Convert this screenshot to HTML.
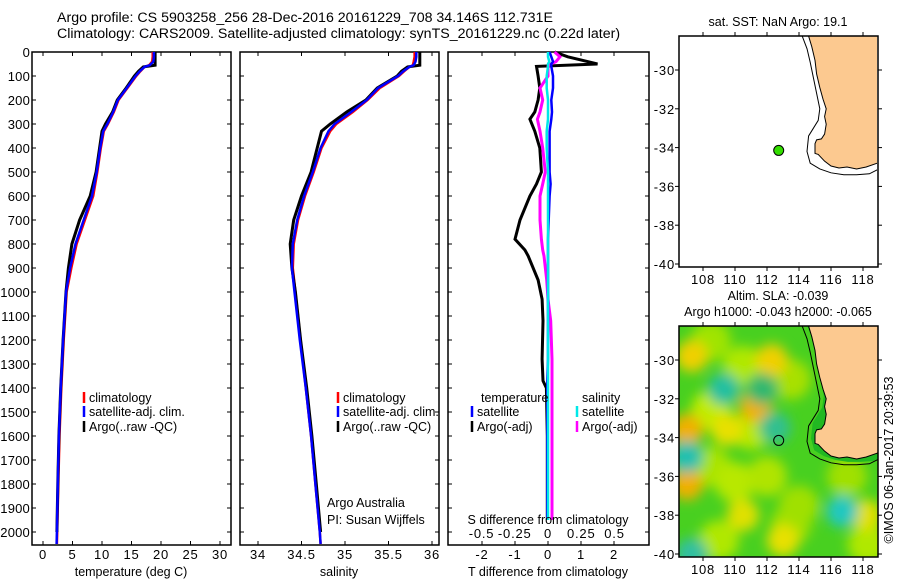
<!DOCTYPE html>
<html><head><meta charset="utf-8">
<style>
html,body{margin:0;padding:0;background:#fff;}
svg{display:block;font-family:"Liberation Sans",sans-serif;font-size:12.5px;}
.tk{font-size:13px;letter-spacing:0.8px;}
.dk{font-size:13px;letter-spacing:0.2px;}
.ttl{font-size:14.2px;}
</style></head>
<body>
<svg id="chart" width="900" height="580" viewBox="0 0 900 580" xmlns="http://www.w3.org/2000/svg">
<defs>
<filter id="blur" x="-20%" y="-20%" width="140%" height="140%"><feGaussianBlur stdDeviation="6"/></filter>
<clipPath id="clipMap2"><rect x="679" y="326" width="199" height="231"/></clipPath>
<clipPath id="clipMap1"><rect x="679" y="36" width="198" height="231"/></clipPath>
</defs>
<text class="ttl" x="57" y="22">Argo profile: CS 5903258_256 28-Dec-2016 20161229_708 34.146S 112.731E</text>
<text class="ttl" x="57" y="38">Climatology: CARS2009. Satellite-adjusted climatology: synTS_20161229.nc (0.22d later)</text>
<g id="g"></g>
</svg>
<script>
// ---- data ----
const depths = [0,20,40,55,62,80,100,150,200,250,300,330,400,500,600,700,800,900,1000,1200,1400,1600,1800,2000,2050];
const tempClim = [18.6,18.6,18.5,18.0,17.2,16.5,15.8,14.3,12.8,12.0,11.0,10.3,9.8,9.2,8.5,7.1,5.7,4.8,4.0,3.5,3.1,2.8,2.6,2.4,2.35];
const tempSat  = [18.8,18.8,18.7,18.1,17.2,16.4,15.7,14.2,12.7,11.9,10.9,10.2,9.7,9.1,8.3,6.9,5.5,4.6,3.9,3.4,3.0,2.7,2.5,2.35,2.3];
const tempArgo = [19.0,19.0,19.0,19.0,17.0,16.2,15.5,14.1,12.6,11.8,10.6,10.0,9.6,9.0,8.0,6.2,4.9,4.3,3.9,3.4,3.0,2.7,2.5,2.35,null];
const salClim = [35.80,35.80,35.79,35.78,35.74,35.68,35.62,35.40,35.26,35.09,34.90,34.83,34.73,34.64,34.54,34.46,34.41,34.40,34.43,34.49,34.55,34.61,34.66,34.71,34.72];
const salSat  = [35.82,35.82,35.81,35.79,35.74,35.67,35.61,35.38,35.25,35.07,34.88,34.81,34.72,34.63,34.53,34.45,34.40,34.39,34.42,34.48,34.55,34.61,34.66,34.71,34.72];
const salArgo = [35.86,35.86,35.86,35.86,35.72,35.65,35.60,35.37,35.24,35.02,34.83,34.73,34.68,34.61,34.50,34.41,34.37,34.39,34.43,34.49,34.56,34.62,34.67,34.72,null];
const diffDepths = [0,20,40,50,60,100,150,200,250,280,330,400,500,550,600,700,780,825,850,950,1030,1120,1280,1370,1400,1600,1800,1950];
const tDiffArgo = [0.2,0.6,1.2,1.5,-0.35,-0.3,-0.25,-0.3,-0.4,-0.55,-0.4,-0.25,-0.2,-0.35,-0.55,-0.85,-1.0,-0.7,-0.6,-0.3,-0.18,-0.15,-0.18,-0.15,-0.05,-0.02,-0.02,-0.02];
const sDiffArgo = [0.05,0.09,0.06,0.02,0.0,0.0,-0.06,-0.04,-0.06,-0.08,-0.06,-0.04,-0.02,-0.04,-0.06,-0.06,-0.05,-0.04,-0.03,-0.01,0.0,0.02,0.03,0.03,0.03,0.03,0.03,0.03];
const tDiffSat = [0.05,0.1,0.15,0.1,0.1,0.15,0.15,0.1,0.12,0.1,0.05,0.05,0.05,0.08,0.05,0.02,0.0,0.0,0.0,0.0,0.0,0.0,0.0,-0.02,-0.02,-0.02,-0.02,-0.02];
const sDiffSat = [0.0,0.0,0.01,0.0,0.0,-0.01,-0.01,0.0,0.0,0.0,-0.01,-0.01,0.0,0.0,0.0,0.0,0.0,0.0,0.0,0.0,0.0,0.0,0.0,0.0,0.0,0.0,0.0,0.0];
const depthTicks = [0,100,200,300,400,500,600,700,800,900,1000,1100,1200,1300,1400,1500,1600,1700,1800,1900,2000];
const tempTicks = [0,5,10,15,20,25,30];
const salTicks = [34,34.5,35,35.5,36];
const tDiffTicks = [-2,-1,0,1,2];
const sDiffTicks = [-0.5,-0.25,0,0.25,0.5];
const latTicks = [-30,-32,-34,-36,-38,-40];
const lonTicks = [108,110,112,114,116,118];
const argoPos = [112.731,-34.146];
const coastLon = [114.6,114.8,115.0,115.1,115.3,115.5,115.7,115.6,115.7,115.6,115.4,115.1,115.0,115.0,115.2,115.6,116.0,116.5,117.0,117.6,118.2,118.9,119.5];
const coastLat = [-28.25,-28.8,-29.5,-30.2,-30.9,-31.5,-32.0,-32.4,-32.8,-33.3,-33.55,-33.6,-33.8,-34.3,-34.35,-34.7,-34.95,-35.05,-35.0,-35.1,-35.0,-34.8,-34.3];
const isoLon = [114.2,114.5,114.7,114.9,115.1,115.3,115.2,114.9,114.6,114.5,114.7,115.3,116.0,116.8,117.6,118.4,119.0,119.5];
const isoLat = [-28.25,-28.9,-29.6,-30.4,-31.2,-32.0,-32.6,-33.0,-33.4,-34.2,-34.8,-35.1,-35.3,-35.4,-35.4,-35.35,-35.1,-34.7];
const blobLon = [108.5,110.5,113.5,108.5,111.0,108.5,110.0,112.0,117.0,114.0,109.0,113.5,118.3,
                 107.3,112.3,111.3,107.0,109.5,107.0,110.5,113.0,118.2,
                 109.3,112.5,107.0,116.7,107.3,111.7];
const blobLat = [-29.0,-30.3,-31.0,-32.6,-33.6,-35.5,-36.3,-36.0,-36.0,-37.5,-39.3,-38.5,-39.5,
                 -29.8,-30.0,-32.4,-33.6,-33.6,-36.4,-38.0,-39.3,-38.0,
                 -31.5,-33.5,-35.0,-37.8,-40.0,-31.5];
const blobColor = ["#a0e400","#b0e800","#a8e000","#c0ec00","#b8e800","#a8e400","#b8e800","#b0e400","#a0e000","#a0e000","#b0e800","#a0e000","#b0e800",
                   "#f0d000","#f0d000","#f0b000","#f0b000","#e8e000","#f0b000","#e0e000","#e8e000","#e0e000",
                   "#20c0a0","#30c090","#20c0b0","#20c8c0","#30c0a0","#30b870"];

// ---- helpers ----
const NS="http://www.w3.org/2000/svg";
const root=document.getElementById('g');
function mk(tag,attrs,parent){const e=document.createElementNS(NS,tag);for(const k in attrs)e.setAttribute(k,attrs[k]);(parent||root).appendChild(e);return e;}
const yTop=52, yBot=545;
function yD(d){return yTop+d*0.24;}

function panel(name,x0,x1,xs,ticks,fmt,showY){
  const grp=mk('g',{});
  
  
  const fr=mk('rect',{x:x0,y:yTop,width:x1-x0,height:yBot-yTop,fill:'none',stroke:'#000','stroke-width':1.5},grp);
  
  
  depthTicks.forEach(d=>{
    const y=yD(d);
    mk('line',{x1:x0,x2:x0+4,y1:y,y2:y,stroke:'#000'},grp);
    mk('line',{x1:x1-4,x2:x1,y1:y,y2:y,stroke:'#000'},grp);
    if(showY){const t=mk('text',{x:x0-2,y:y+5,'text-anchor':'end','class':'dk'},grp);t.textContent=d;
      
      }
  });
  ticks.forEach(v=>{
    const x=xs(v);
    mk('line',{x1:x,x2:x,y1:yTop,y2:yTop+4,stroke:'#000'},grp);
    mk('line',{x1:x,x2:x,y1:yBot-4,y2:yBot,stroke:'#000'},grp);
    if(fmt){const t=mk('text',{x:x,y:559,'text-anchor':'middle','class':'tk'},grp);t.textContent=fmt(v);
      
      }
  });
  return grp;
}
function line(grp,name,dep,vals,xs,color,w){
  let pts=[];
  for(let i=0;i<dep.length;i++){if(vals[i]===null)continue;pts.push(xs(vals[i]).toFixed(1)+','+yD(dep[i]).toFixed(1));}
  const p=mk('polyline',{points:pts.join(' '),fill:'none',stroke:color,'stroke-width':w||2.5,'stroke-linejoin':'miter'},grp);
  
  
}
function label(txt,x,y,name,anchor){const t=mk('text',{x:x,y:y,'text-anchor':anchor||'start'});t.textContent=txt;
  
  return t;}
function legend(x,y,color,txt,name){
  const l=mk('line',{x1:x,x2:x,y1:y-10,y2:y+1,stroke:color,'stroke-width':2.5});
  
  
  label(txt,x+5,y,name);
}

// ---- panel 1 temperature ----
const xT=v=>43+v*5.9;
const p1=panel('temperature-panel',32,231,xT,tempTicks,v=>v,true);
line(p1,'temp-climatology',depths,tempClim,xT,'#ff0000');
line(p1,'temp-argo',depths,tempArgo,xT,'#000000',3);
line(p1,'temp-satellite-adj',depths,tempSat,xT,'#0000ff');
label('temperature (deg C)',131,576,'temperature-axis-title','middle');
legend(84,402,'#ff0000','climatology','legend-climatology');
legend(84,416,'#0000ff','satellite-adj. clim.','legend-satellite-adj');
legend(84,431,'#000000','Argo(..raw -QC)','legend-argo');

// ---- panel 2 salinity ----
const xS=v=>258+(v-34)*87;
const p2=panel('salinity-panel',240,439,xS,salTicks,v=>v,false);
line(p2,'sal-climatology',depths,salClim,xS,'#ff0000');
line(p2,'sal-argo',depths,salArgo,xS,'#000000',3);
line(p2,'sal-satellite-adj',depths,salSat,xS,'#0000ff');
label('salinity',339,576,'salinity-axis-title','middle');
legend(338,402,'#ff0000','climatology','legend2-climatology');
legend(338,416,'#0000ff','satellite-adj. clim.','legend2-satellite-adj');
legend(338,431,'#000000','Argo(..raw -QC)','legend2-argo');
label('Argo Australia',327,547-40,'institution-label');
label('PI: Susan Wijffels',327,547-23,'pi-label');

// ---- panel 3 differences ----
const xTd=v=>548+v*33;
const xSd=v=>548+v*133;
const p3=panel('difference-panel',448,649,xTd,tDiffTicks,v=>v,false);
sDiffTicks.forEach(v=>{const t=mk('text',{x:xSd(v),y:538,'text-anchor':'middle','class':'tk'},p3);t.textContent=v;
  
  });
line(p3,'t-diff-argo',diffDepths,tDiffArgo,xTd,'#000000',3);
line(p3,'s-diff-argo',diffDepths,sDiffArgo,xSd,'#ff00ff',3);
line(p3,'t-diff-satellite',diffDepths,tDiffSat,xTd,'#0000ff',2.5);
line(p3,'s-diff-satellite',diffDepths,sDiffSat,xSd,'#00e8e8',2.5);
label('S difference from climatology',548,524,'s-diff-axis-title','middle');
label('T difference from climatology',548,576,'t-diff-axis-title','middle');
label('temperature',481,402,'legend3-temperature-heading');
legend(472,416,'#0000ff','satellite','legend3-t-satellite');
legend(472,431,'#000000','Argo(-adj)','legend3-t-argo');
label('salinity',582,402,'legend3-salinity-heading');
legend(577,416,'#00e8e8','satellite','legend3-s-satellite');
legend(577,431,'#ff00ff','Argo(-adj)','legend3-s-argo');

// ---- maps ----
function mapPanel(name,top,bottom,heat){
  const L=679,R=878;
  const lonX=lon=>703+(lon-108)*16;
  const latY=lat=>(top+34)+(-30-lat)*19.4;
  const grp=mk('g',{});
  
  
  const clip=heat?'url(#clipMap2)':'url(#clipMap1)';
  const inner=mk('g',{'clip-path':clip},grp);
  if(heat){
    mk('rect',{x:L,y:top,width:R-L,height:bottom-top,fill:'#48d020'},inner);
    const bg=mk('g',{filter:'url(#blur)'},inner);
    for(let i=0;i<blobLon.length;i++){
      const c=mk('circle',{cx:lonX(blobLon[i]),cy:latY(blobLat[i]),r:i<13?20:16,fill:blobColor[i]},bg);
      
      
    }
    let bp=[];
    for(let i=0;i<isoLon.length;i++)bp.push(lonX(isoLon[i]+0.25)+','+latY(isoLat[i]+0.15));
    bp.push(lonX(119.5)+','+latY(-28));
    const band=mk('polygon',{points:bp.join(' '),fill:'#22b822'},inner);
    
    
  }
  let pts=[];
  for(let i=0;i<coastLon.length;i++)pts.push(lonX(coastLon[i])+','+latY(coastLat[i]));
  pts.push(lonX(119.5)+','+latY(-28));
  const land=mk('polygon',{points:pts.join(' '),fill:'#fcc990',stroke:'#000','stroke-width':1},inner);
  
  
  let ip=[];
  for(let i=0;i<isoLon.length;i++)ip.push(lonX(isoLon[i])+','+latY(isoLat[i]));
  const iso=mk('polyline',{points:ip.join(' '),fill:'none',stroke:'#000','stroke-width':1},inner);
  
  
  const fr=mk('rect',{x:L,y:top,width:R-L,height:bottom-top,fill:'none',stroke:'#000','stroke-width':1.5},grp);
  
  
  latTicks.forEach(v=>{const y=latY(v);
    mk('line',{x1:L-4,x2:L,y1:y,y2:y,stroke:'#000'},grp);
    mk('line',{x1:R,x2:R+4,y1:y,y2:y,stroke:'#000'},grp);
    const t=mk('text',{x:L-4,y:y+5,'text-anchor':'end','class':'tk'},grp);t.textContent=v;
    
    });
  lonTicks.forEach(v=>{const x=lonX(v);
    mk('line',{x1:x,x2:x,y1:top-4,y2:top,stroke:'#000'},grp);
    mk('line',{x1:x,x2:x,y1:bottom,y2:bottom+4,stroke:'#000'},grp);
    const t=mk('text',{x:x,y:bottom+17,'text-anchor':'middle','class':'tk'},grp);t.textContent=v;
    
    });
  const m=mk('circle',{cx:lonX(argoPos[0]),cy:latY(argoPos[1]),r:5,fill:heat?'none':'#33dd00',stroke:'#000','stroke-width':1},grp);
  
  
}
mapPanel('sst-map',36,267,false);
mapPanel('sla-map',326,557,true);
label('sat. SST: NaN Argo: 19.1',778,26,'sst-map-title','middle');
label('Altim. SLA: -0.039',778,300,'sla-map-title-1','middle');
label('Argo h1000: -0.043 h2000: -0.065',778,316,'sla-map-title-2','middle');
const cr=label('©IMOS 06-Jan-2017 20:39:53',0,0,'imos-timestamp','middle');
cr.setAttribute('transform','translate(893,460) rotate(-90)');
</script>
</body></html>
